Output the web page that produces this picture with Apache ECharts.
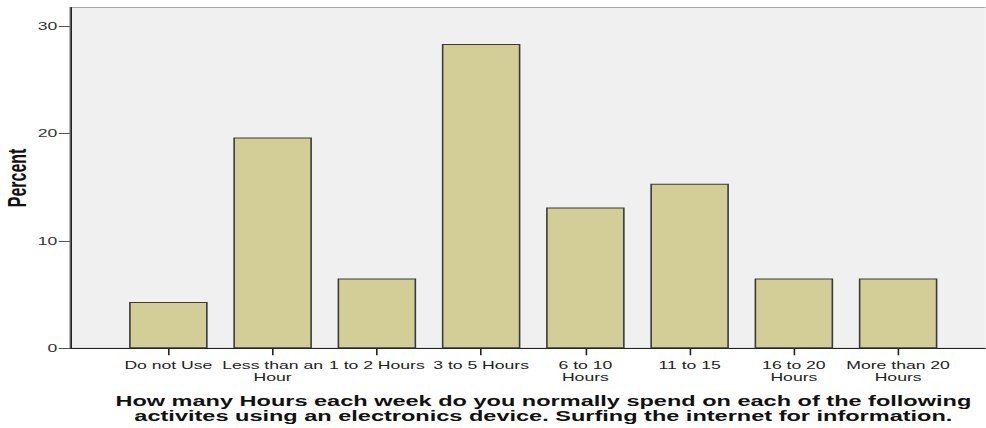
<!DOCTYPE html>
<html>
<head>
<meta charset="utf-8">
<script src="https://cdn.jsdelivr.net/npm/echarts@6/dist/echarts.min.js"></script>
<style>
  html, body { margin: 0; padding: 0; background: #ffffff; overflow: hidden; }
  #chart { width: 616.25px; height: 428px; transform: scaleX(1.6); transform-origin: 0 0; }
</style>
</head>
<body>
<div id="chart"></div>
<script>
// Data
const categories = [
  'Do not Use',
  'Less than an\nHour',
  '1 to 2 Hours',
  '3 to 5 Hours',
  '6 to 10\nHours',
  '11 to 15',
  '16 to 20\nHours',
  'More than 20\nHours'
];
const percentValues = [4.3, 19.6, 6.5, 28.3, 13.1, 15.3, 6.5, 6.5];
const yTicks = [0, 10, 20, 30];
const yMax = 31.7;
const axisTitle = 'Percent';
const chartTitle = 'How many Hours each week do you normally spend on each of the following\nactivites using an electronics device. Surfing the internet for information.';

const FONT = 'Liberation Sans, Arial, sans-serif';
const chart = echarts.init(document.getElementById('chart'), null, { renderer: 'svg' });

chart.setOption({
  animation: false,
  backgroundColor: '#ffffff',
  title: {
    text: chartTitle,
    left: 334.6,
    top: 388,
    textAlign: 'center',
    textStyle: {
      fontFamily: FONT,
      fontSize: 14.7,
      fontWeight: 'bold',
      color: '#111111',
      lineHeight: 15
    }
  },
  grid: [
    { // bars band area
      left: 72.66, right: 22.1, top: 7.5, bottom: 79.7,
      containLabel: false, outerBoundsMode: 'none'
    },
    { // plot background / frame
      left: 43.75, right: -1, top: 7.5, bottom: 79.7,
      containLabel: false, outerBoundsMode: 'none',
      show: true, backgroundColor: '#f0f0f0',
      borderColor: '#a8a8a8', borderWidth: 1,
      z: 0
    }
  ],
  xAxis: [
    {
      type: 'category', gridIndex: 0, data: categories,
      axisLine: { show: false },
      axisTick: { show: true, alignWithLabel: true, length: 7, lineStyle: { color: '#222222', width: 1 } },
      axisLabel: { interval: 0, margin: 11, fontFamily: FONT, fontSize: 11, color: '#222222', lineHeight: 12 },
      splitLine: { show: false }
    },
    {
      type: 'value', gridIndex: 1, min: 0, max: 1,
      axisLine: { show: true, onZero: false, lineStyle: { color: '#222222', width: 1 } },
      axisTick: { show: false }, axisLabel: { show: false }, splitLine: { show: false }
    }
  ],
  yAxis: [
    {
      type: 'value', gridIndex: 0, min: 0, max: yMax, show: false, splitLine: { show: false }
    },
    {
      type: 'value', gridIndex: 1, min: 0, max: yMax,
      name: axisTitle, nameLocation: 'middle', nameGap: 25, nameRotate: 90,
      nameMoveOverlap: false,
      nameTextStyle: { fontFamily: FONT, fontSize: 16, fontWeight: 'bold', color: '#111111' },
      axisLine: { show: true, lineStyle: { color: '#222222', width: 1 } },
      axisTick: { show: true, length: 7, customValues: yTicks, lineStyle: { color: '#555555', width: 1 } },
      axisLabel: { margin: 8, customValues: yTicks, fontFamily: FONT, fontSize: 11, color: '#333333' },
      splitLine: { show: false }
    }
  ],
  series: [
    {
      type: 'bar', xAxisIndex: 0, yAxisIndex: 0,
      data: percentValues,
      barWidth: 49.1,
      itemStyle: { color: '#d3ce97', borderColor: '#3a3a3a', borderWidth: 1 },
      z: 3
    }
  ]
});
</script>
</body>
</html>
